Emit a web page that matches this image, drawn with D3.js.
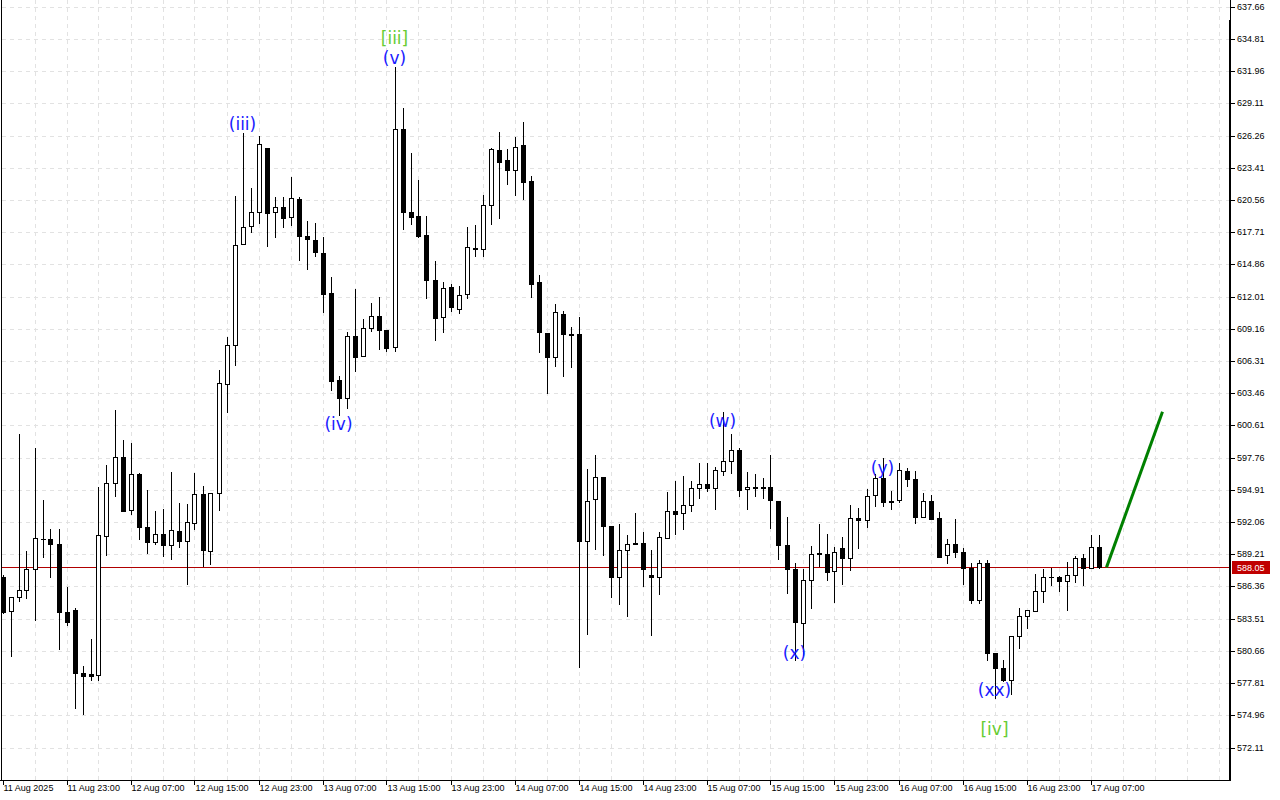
<!DOCTYPE html>
<html>
<head>
<meta charset="utf-8">
<script src="https://cdn.jsdelivr.net/npm/d3@7"></script>
<style>
  html, body { margin: 0; padding: 0; background: #ffffff; }
  svg { display: block; }
</style>
</head>
<body>
<svg id="chart" width="1280" height="800"></svg>
<script>
// ---------------- DATA ----------------
const opens = [587.23,584.16,585.40,586.02,587.88,590.54,590.54,590.09,584.08,584.25,
578.68,578.59,578.50,590.80,595.49,597.79,593.10,596.29,591.60,590.32,
590.98,590.06,591.24,590.41,591.95,594.52,589.53,594.61,604.25,607.70,
616.64,618.24,619.48,625.14,619.48,619.92,619.03,620.63,617.35,617.00,
615.85,612.31,604.61,603.07,608.50,606.73,609.21,610.27,609.03,607.53,
626.82,619.48,619.15,617.47,613.46,610.18,612.84,610.89,612.22,616.34,
616.20,620.09,624.96,624.08,623.25,625.43,622.25,613.28,608.77,606.64,
610.45,608.71,608.71,590.41,594.08,596.02,591.69,587.17,589.56,590.23,
590.23,587.35,587.17,590.68,593.01,592.84,593.54,595.05,595.40,595.05,
596.55,597.44,598.41,594.96,595.14,595.14,595.14,593.93,590.00,587.88,
583.10,586.91,589.30,589.21,587.70,589.74,588.85,592.39,592.22,594.43,
595.93,593.90,593.99,596.55,595.85,592.48,593.90,592.39,589.12,590.09,
589.39,587.97,585.14,588.41,580.50,579.12,578.06,581.95,583.72,584.16,
585.93,587.17,587.17,586.82,587.35,588.85,587.97,589.83];
const highs = [587.38,585.40,599.85,589.50,598.59,594.01,591.45,591.45,586.29,584.43,
579.32,581.71,595.14,597.11,601.98,599.32,599.06,596.40,594.90,593.04,
593.22,596.49,593.75,593.66,596.40,595.23,594.61,605.52,608.41,620.92,
626.47,621.60,626.23,625.20,620.80,620.80,622.57,620.80,618.71,618.50,
617.32,613.78,604.99,608.91,612.66,610.01,611.42,611.95,609.03,632.36,
628.68,624.70,622.33,619.17,615.14,613.28,613.13,612.95,618.17,618.35,
621.01,625.19,626.58,625.08,626.11,627.47,622.66,613.90,608.77,611.33,
610.74,609.30,610.18,596.73,597.97,596.07,591.69,591.86,590.89,592.84,
591.16,589.56,591.16,594.70,595.72,596.14,595.70,597.26,597.26,596.93,
601.83,599.83,598.59,596.47,596.29,595.93,597.97,593.93,592.48,588.41,
587.88,589.92,591.89,590.98,589.83,590.71,593.54,593.28,594.96,596.29,
597.70,594.78,597.26,596.82,596.55,594.61,594.43,592.95,590.54,592.31,
589.74,588.41,588.68,588.68,580.50,579.85,581.95,584.43,584.25,587.44,
587.88,587.97,587.26,588.50,589.03,589.21,590.89,590.89];
const lows = [583.92,580.15,585.01,585.25,583.33,588.91,587.14,580.74,582.89,575.54,
575.01,578.02,578.02,589.08,594.31,592.95,592.71,590.50,589.26,590.06,
589.00,588.73,589.79,586.52,591.39,588.11,588.29,593.07,601.74,605.90,
616.64,617.67,618.47,616.43,617.17,618.06,618.29,615.19,614.40,615.55,
610.54,603.69,601.45,602.07,605.34,606.73,608.91,607.32,607.14,607.14,
617.94,618.38,617.23,611.83,608.11,608.82,610.63,610.45,611.78,615.55,
615.55,618.38,618.86,621.92,620.94,620.59,611.92,607.05,603.42,605.81,
604.93,605.72,579.12,582.09,589.62,589.08,585.37,584.75,583.69,590.06,
586.34,582.00,585.63,590.59,590.89,591.39,592.98,594.13,594.70,593.10,
596.11,596.29,594.31,593.16,594.25,594.08,591.47,588.73,585.67,579.77,
580.21,584.34,588.06,586.82,584.87,586.46,587.70,589.65,591.51,593.37,
593.37,593.10,593.72,595.14,591.86,592.48,592.31,588.94,588.32,588.85,
586.52,584.78,584.78,579.74,576.38,577.88,576.76,580.80,582.57,584.16,
584.87,586.38,585.85,584.22,586.64,586.43,587.97,587.88];
const closes = [584.08,585.40,586.02,587.88,590.62,590.54,590.09,584.13,583.24,578.73,
578.46,578.46,590.89,595.49,597.79,593.07,596.29,591.65,590.32,590.98,
590.06,591.33,590.41,592.04,594.52,589.62,594.61,604.34,607.70,616.55,
618.15,619.48,625.49,619.44,619.92,619.00,620.71,617.40,617.09,615.94,
612.27,604.57,603.07,608.50,606.70,609.21,610.27,609.09,607.49,626.82,
619.53,619.09,617.40,613.51,610.15,612.80,611.12,612.13,616.38,616.20,
620.09,625.05,623.95,623.25,625.23,622.18,613.10,608.86,606.64,610.63,
608.68,608.59,590.41,593.95,596.02,591.74,587.17,589.56,590.15,590.15,
587.88,587.23,590.77,593.01,592.75,593.54,595.05,595.40,595.05,596.64,
597.44,598.41,594.90,595.14,595.05,595.05,593.99,590.06,587.88,583.19,
586.91,589.21,589.21,587.62,589.39,588.85,592.39,592.22,594.34,595.93,
593.81,593.81,596.64,595.85,592.54,593.90,592.36,589.00,590.09,589.39,
587.97,585.14,588.41,580.50,579.17,578.06,581.95,583.72,584.25,585.93,
587.17,587.17,586.82,587.35,588.85,587.97,589.83,588.05];

const priceTicks = [572.11,574.96,577.81,580.66,583.51,586.36,589.21,592.06,594.91,597.76,
600.61,603.46,606.31,609.16,612.01,614.86,617.71,620.56,623.41,626.26,629.11,631.96,634.81,637.66];
const timeLabels = ["11 Aug 2025","11 Aug 23:00","12 Aug 07:00","12 Aug 15:00","12 Aug 23:00",
"13 Aug 07:00","13 Aug 15:00","13 Aug 23:00","14 Aug 07:00","14 Aug 15:00","14 Aug 23:00",
"15 Aug 07:00","15 Aug 15:00","15 Aug 23:00","16 Aug 07:00","16 Aug 15:00","16 Aug 23:00","17 Aug 07:00"];
const barsPerLabel = 8;
const currentPrice = 588.05;

const waveText  = ["[iii]","(v)","(iii)","(iv)","(w)","(x)","(y)","(xx)","[iv]"];
const waveBar   = [49, 49, 30, 42, 90, 99, 110, 124, 124];
const wavePrice = [634.90, 633.13, 627.29, 600.74, 601.01, 580.47, 596.85, 577.20, 573.75];
const waveDegree = ["major","minor","minor","minor","minor","minor","minor","minor","major"];

const forecastBars = [137, 145];
const forecastPrices = [588.05, 601.83];

// ---------------- CHART ----------------
const W = 1280, H = 800;
const plotRight = 1230, plotBottom = 780;
const svg = d3.select("#chart");
svg.append("rect").attr("width", W).attr("height", H).attr("fill", "#ffffff");

const x = d3.scaleLinear().domain([0, 153.5]).range([2.5, 2.5 + 8 * 153.5]);
const y = d3.scaleLinear().domain([572.11, 637.66]).range([747.5, 6.8]);

const g = svg.append("g").attr("shape-rendering", "crispEdges");

// grid - horizontal
g.selectAll("line.hgrid").data(priceTicks).enter().append("line")
  .attr("x1", 2).attr("x2", plotRight)
  .attr("y1", d => Math.round(y(d)) + 0.5).attr("y2", d => Math.round(y(d)) + 0.5)
  .attr("stroke", "#e2e2e2").attr("stroke-dasharray", "4,4");
// grid - vertical every 4 bars
const vBars = d3.range(4, 154, 4);
g.selectAll("line.vgrid").data(vBars).enter().append("line")
  .attr("x1", d => Math.round(x(d)) + 0.5).attr("x2", d => Math.round(x(d)) + 0.5)
  .attr("y1", 0).attr("y2", plotBottom)
  .attr("stroke", "#e2e2e2").attr("stroke-dasharray", "4,4");

// current price line
g.append("line").attr("x1", 2).attr("x2", plotRight)
  .attr("y1", Math.round(y(currentPrice)) + 0.5).attr("y2", Math.round(y(currentPrice)) + 0.5)
  .attr("stroke", "#b00000").attr("stroke-width", 1);

// candles
const idx = d3.range(closes.length);
const cg = g.append("g");
cg.selectAll("line.wick").data(idx).enter().append("line")
  .attr("x1", i => Math.round(x(i)) + 0.5).attr("x2", i => Math.round(x(i)) + 0.5)
  .attr("y1", i => y(highs[i])).attr("y2", i => y(lows[i]))
  .attr("stroke", "#000").attr("stroke-width", 1);
cg.selectAll("rect.body").data(idx).enter().append("rect")
  .attr("x", i => Math.round(x(i)) - 2 + 0.5)
  .attr("width", 4)
  .attr("y", i => Math.round(y(Math.max(opens[i], closes[i]))) + 0.5)
  .attr("height", i => Math.max(0.01, Math.round(y(Math.min(opens[i], closes[i]))) - Math.round(y(Math.max(opens[i], closes[i])))))
  .attr("fill", i => closes[i] > opens[i] ? "#ffffff" : "#000000")
  .attr("stroke", "#000").attr("stroke-width", 1);

// forecast line
svg.append("line")
  .attr("x1", x(forecastBars[0]) + 8).attr("y1", y(forecastPrices[0]))
  .attr("x2", x(forecastBars[1])).attr("y2", y(forecastPrices[1]))
  .attr("stroke", "#008000").attr("stroke-width", 3);

// wave labels
svg.selectAll("text.wave").data(d3.range(waveText.length)).enter().append("text")
  .attr("x", i => x(waveBar[i]))
  .attr("y", i => y(wavePrice[i]))
  .attr("text-anchor", "middle").attr("dominant-baseline", "central")
  .attr("font-family", "DejaVu Sans, sans-serif").attr("font-size", 17)
  .attr("fill", i => waveDegree[i] === "major" ? "#66cc33" : "#1a1aff")
  .text(i => waveText[i]);

// frame
g.append("line").attr("x1", 1.5).attr("x2", 1.5).attr("y1", 0).attr("y2", plotBottom).attr("stroke", "#000");
g.append("line").attr("x1", 0).attr("x2", plotRight + 1).attr("y1", plotBottom + 0.5).attr("y2", plotBottom + 0.5).attr("stroke", "#000");
g.append("rect").attr("x", plotRight - 1).attr("y", 20).attr("width", 2).attr("height", plotBottom - 20).attr("fill", "#000");
g.append("line").attr("x1", plotRight + 0.5).attr("x2", plotRight + 0.5).attr("y1", 0).attr("y2", 20).attr("stroke", "#000");

// right axis
const ra = svg.append("g");
ra.selectAll("line").data(priceTicks).enter().append("line")
  .attr("shape-rendering", "crispEdges")
  .attr("x1", plotRight + 1).attr("x2", plotRight + 5)
  .attr("y1", d => Math.round(y(d)) + 0.5).attr("y2", d => Math.round(y(d)) + 0.5)
  .attr("stroke", "#000");
ra.selectAll("text").data(priceTicks).enter().append("text")
  .attr("x", plotRight + 7).attr("y", d => y(d))
  .attr("dominant-baseline", "central")
  .attr("font-family", "Liberation Sans, Arial, sans-serif").attr("font-size", 9)
  .attr("fill", "#000")
  .text(d => d.toFixed(2));

// current price tag
const cy = Math.round(y(currentPrice));
svg.append("rect").attr("x", plotRight + 2).attr("y", cy - 6).attr("width", 38).attr("height", 13).attr("fill", "#c00000");
svg.append("text").attr("x", plotRight + 7).attr("y", cy + 0.5)
  .attr("dominant-baseline", "central")
  .attr("font-family", "Liberation Sans, Arial, sans-serif").attr("font-size", 9)
  .attr("fill", "#ffffff").text(currentPrice.toFixed(2));

// bottom axis
const ba = svg.append("g");
const labelBars = timeLabels.map((d, i) => i * barsPerLabel);
ba.selectAll("line").data(labelBars).enter().append("line")
  .attr("shape-rendering", "crispEdges")
  .attr("x1", d => Math.round(x(d)) + 0.5).attr("x2", d => Math.round(x(d)) + 0.5)
  .attr("y1", plotBottom).attr("y2", plotBottom + 5).attr("stroke", "#000");
ba.selectAll("text").data(timeLabels).enter().append("text")
  .attr("x", (d, i) => x(labelBars[i]) + 1).attr("y", 788)
  .attr("dominant-baseline", "central")
  .attr("font-family", "Liberation Sans, Arial, sans-serif").attr("font-size", 9)
  .attr("fill", "#000").text(d => d);
</script>
</body>
</html>
